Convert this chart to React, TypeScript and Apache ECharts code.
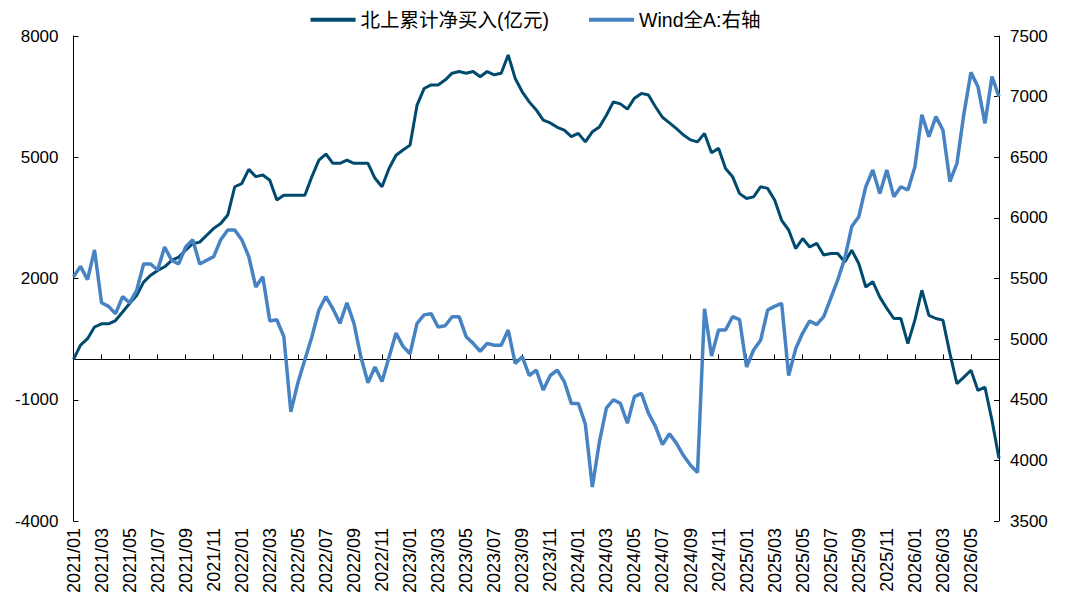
import { useEffect, useRef } from "react";
import * as echarts from "echarts";

// 北上累计净买入(亿元) — semi-monthly readings
const northbound = [
  0, 350, 510, 800, 880, 880, 960, 1170, 1380, 1580,
  1910, 2080, 2200, 2290, 2450, 2530, 2700, 2860, 2900, 3070,
  3240, 3360, 3570, 4270, 4350, 4700, 4520, 4560, 4430, 3940,
  4060, 4060, 4060, 4060, 4520, 4930, 5080, 4850, 4850, 4930,
  4850, 4850, 4850, 4480, 4270, 4720, 5050, 5180, 5300, 6290,
  6700, 6790, 6790, 6910, 7080, 7120, 7080, 7120, 6990, 7120,
  7040, 7080, 7530, 6950, 6620, 6370, 6170, 5920, 5850, 5740,
  5670, 5510, 5590, 5380, 5630, 5750, 6040, 6370, 6320, 6190,
  6460, 6580, 6540, 6250, 5990, 5850, 5710, 5550, 5430, 5380,
  5590, 5110, 5220, 4720, 4520, 4100, 3980, 4020, 4270, 4230,
  3940, 3440, 3200, 2740, 2990, 2780, 2870, 2580, 2620, 2620,
  2410, 2700, 2370, 1790, 1920, 1540, 1260, 1010, 1010, 390,
  970, 1710, 1090, 1010, 970, 140, -600, -440, -270, -770,
  -690, -1510, -2450,
];

// Wind全A (right axis)
const windA = [
  5515, 5600, 5490, 5735, 5300, 5270, 5210, 5350, 5300, 5400,
  5620, 5620, 5570, 5760, 5650, 5620, 5760, 5820, 5620, 5650,
  5680, 5820, 5900, 5900, 5820, 5680, 5430, 5515, 5150, 5160,
  5020, 4400, 4640, 4830, 5020, 5240, 5350, 5250, 5130, 5300,
  5130, 4850, 4640, 4770, 4650, 4850, 5050, 4940, 4880, 5130,
  5200, 5210, 5100, 5110, 5185, 5185, 5020, 4965, 4900, 4965,
  4950, 4950, 5075, 4800, 4855, 4700, 4745, 4580, 4700, 4745,
  4650, 4470, 4470, 4300, 3780, 4150, 4430, 4500, 4470, 4306,
  4526, 4553, 4390, 4280, 4130, 4220, 4140, 4040, 3960, 3900,
  5250, 4860, 5075, 5075, 5185, 5160, 4770, 4910, 4990, 5240,
  5270, 5295, 4700, 4920, 5050, 5150, 5120, 5185, 5336, 5488,
  5666, 5928, 6010, 6257, 6395, 6200, 6395, 6175, 6257, 6230,
  6420, 6850, 6670, 6835, 6725, 6300, 6450, 6860, 7200, 7082,
  6780, 7165, 7000,
];

// Category axis: 1st and 16th of each month, 2021/01 .. 2026/06, plus end
const categories: string[] = [];
for (let m = 0; m < 66; m++) {
  const yr = 2021 + Math.floor(m / 12);
  const mm = String((m % 12) + 1).padStart(2, "0");
  categories.push(`${yr}/${mm}/01`, `${yr}/${mm}/16`);
}
categories.push("2026/06/30");

const seriesNames = ["北上累计净买入(亿元)", "Wind全A:右轴"];
const DARK = "#004A6E";
const LIGHT = "#4783C3";
const FONT = "'Liberation Sans', Arial, 'Noto Sans CJK SC', sans-serif";

export default function App() {
  const ref = useRef<HTMLDivElement>(null);

  useEffect(() => {
    if (!ref.current) return;
    const chart = echarts.init(ref.current, undefined, { renderer: "svg" });
    const lastIdx = categories.length - 1;
    const labelEvery = (idx: number) => idx % 4 === 0 && idx < lastIdx;
    chart.setOption({
      animation: false,
      textStyle: { fontFamily: FONT },
      legend: {
        top: 5,
        left: "center",
        itemWidth: 45,
        itemHeight: 4,
        itemGap: 40,
        icon: "rect",
        textStyle: { fontSize: 19.5, color: "#000", fontFamily: FONT },
        data: seriesNames,
      },
      grid: { left: 73.5, right: 72, top: 36, bottom: 82, containLabel: false },
      xAxis: [
        {
          type: "category",
          data: categories,
          boundaryGap: false,
          position: "bottom",
          axisLine: { show: false, onZero: false },
          axisTick: { show: false },
          axisLabel: {
            interval: labelEvery,
            rotate: 90,
            fontSize: 18,
            color: "#000",
            margin: 7,
            formatter: (v: string) => v.slice(0, 7),
          },
          splitLine: { show: false },
        },
        {
          type: "category",
          data: categories,
          boundaryGap: false,
          position: "bottom",
          axisLine: { show: true, onZero: true, onZeroAxisIndex: 0, lineStyle: { color: "#000", width: 1 } },
          axisTick: { show: true, inside: true, length: 5, interval: labelEvery, lineStyle: { color: "#000" } },
          axisLabel: { show: false },
          splitLine: { show: false },
        },
      ],
      yAxis: [
        {
          type: "value",
          min: -4000,
          max: 8000,
          interval: 3000,
          position: "left",
          axisLine: { show: true, lineStyle: { color: "#000" } },
          axisTick: { show: true, inside: true, length: 5, lineStyle: { color: "#000" } },
          axisLabel: { fontSize: 17, color: "#000", margin: 15, formatter: (v: number) => String(v) },
          splitLine: { show: false },
        },
        {
          type: "value",
          min: 3500,
          max: 7500,
          interval: 500,
          position: "right",
          axisLine: { show: true, lineStyle: { color: "#000" } },
          axisTick: { show: true, inside: true, length: 5, lineStyle: { color: "#000" } },
          axisLabel: { fontSize: 17, color: "#000", margin: 11, formatter: (v: number) => String(v) },
          splitLine: { show: false },
        },
      ],
      series: [
        {
          name: seriesNames[0],
          type: "line",
          xAxisIndex: 0,
          yAxisIndex: 0,
          data: northbound,
          showSymbol: false,
          symbol: "none",
          lineStyle: { color: DARK, width: 3 },
          itemStyle: { color: DARK },
        },
        {
          name: seriesNames[1],
          type: "line",
          xAxisIndex: 0,
          yAxisIndex: 1,
          data: windA,
          showSymbol: false,
          symbol: "none",
          lineStyle: { color: LIGHT, width: 3.5 },
          itemStyle: { color: LIGHT },
        },
      ],
    });
    return () => chart.dispose();
  }, []);

  return (
    <div
      ref={ref}
      style={{ position: "absolute", left: 0, top: 0, width: 1071, height: 603, background: "#fff" }}
    />
  );
}
